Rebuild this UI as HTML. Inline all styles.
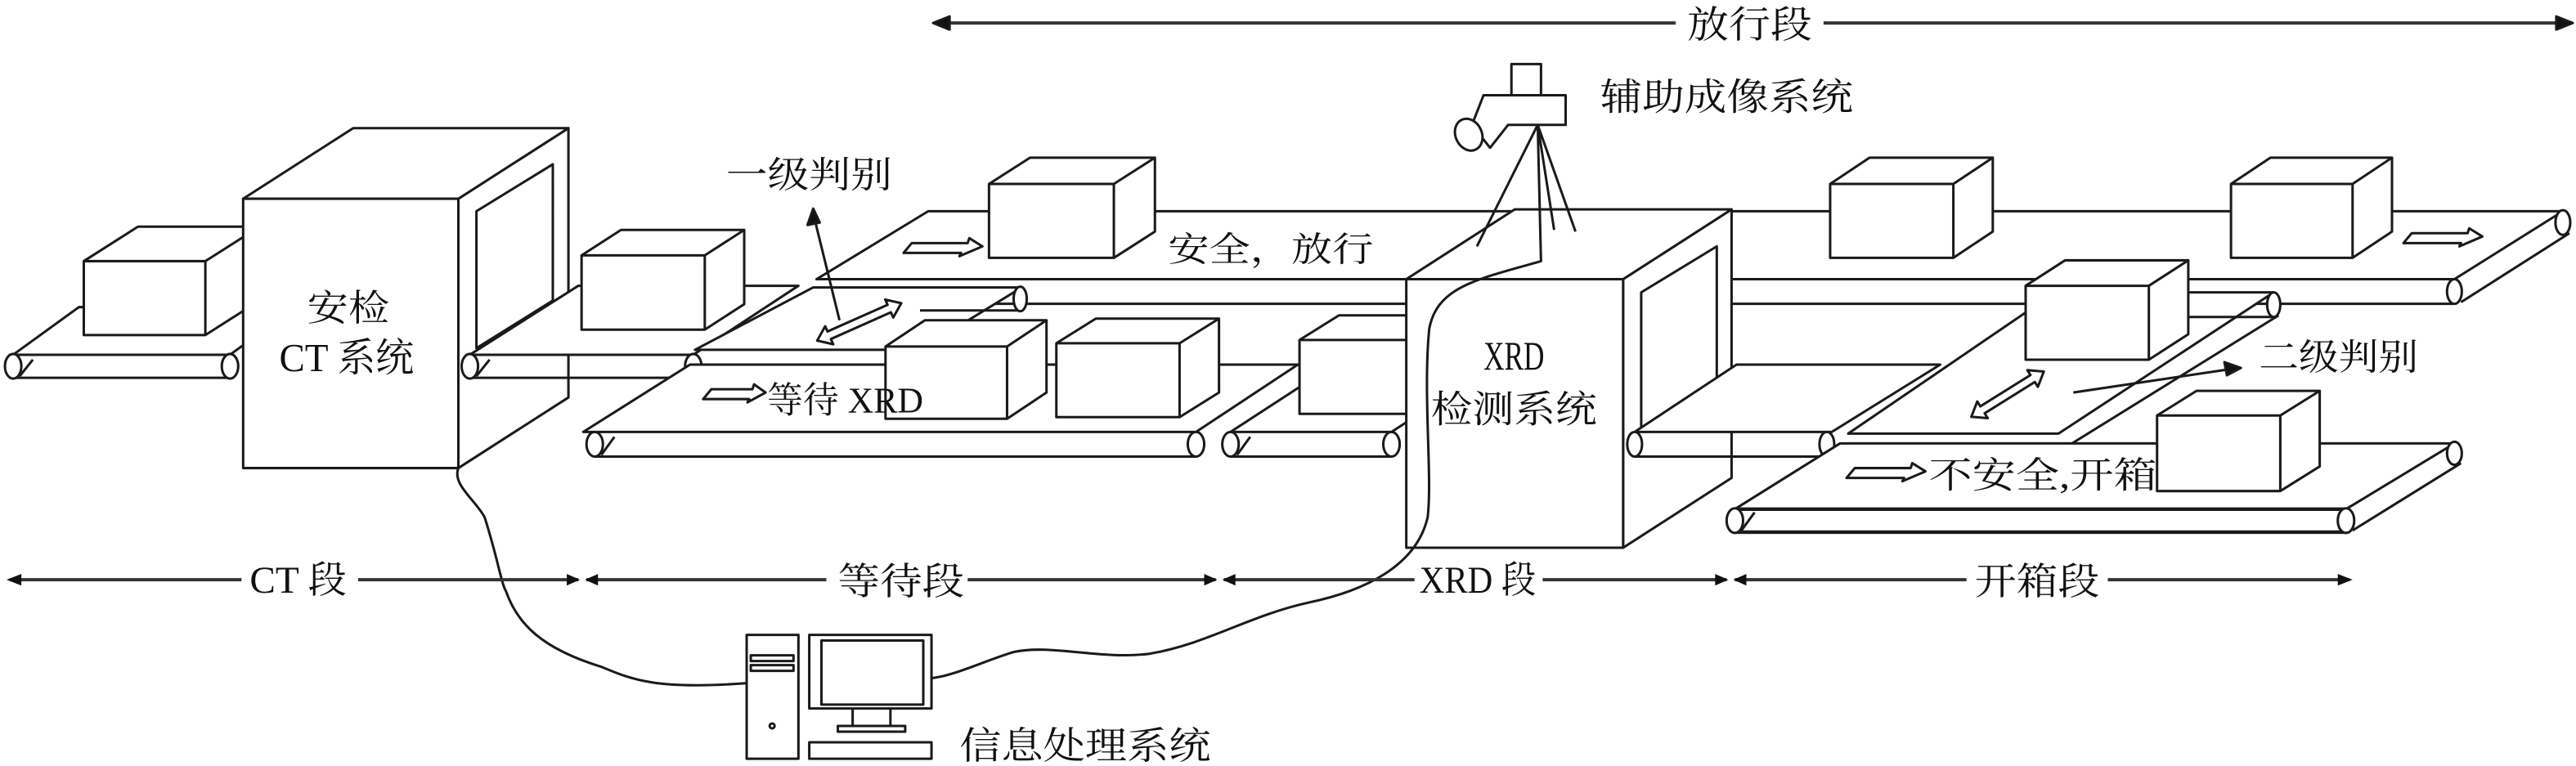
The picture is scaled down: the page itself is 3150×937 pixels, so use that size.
<!DOCTYPE html>
<html><head><meta charset="utf-8"><style>
html,body{margin:0;padding:0;background:#fff;}
svg{display:block;}
text{font-family:"Liberation Serif","Noto Serif CJK SC",serif;fill:#111;}
</style></head><body>
<svg width="3150" height="937" viewBox="0 0 1568 466.4" xmlns="http://www.w3.org/2000/svg">
<g fill="#fff" stroke="#1a1a1a" stroke-width="1.5" stroke-linejoin="round">

<line x1="572" y1="14" x2="1020" y2="14" stroke="#333" stroke-width="2"/>
<line x1="1110" y1="14" x2="1560" y2="14" stroke="#333" stroke-width="2"/>
<path d="M568,14 L578,10 L578,18Z" fill="#111"/>
<path d="M1566,14 L1556,10 L1556,18Z" fill="#111"/>

<path d="M565,128.6 L1560,128.6 L1494,170 L497,170Z"/>
<line x1="497" y1="185" x2="1494" y2="185"/>
<ellipse cx="1494" cy="177.5" rx="4.5" ry="7.5"/>
<ellipse cx="1560" cy="135.5" rx="4.5" ry="7.5"/>
<line x1="1564" y1="142" x2="1498" y2="184"/>

<path d="M602,112 L627,96 L703,96 L703,141 L678,157 L602,157Z M602,112 L678,112 L678,157 M678,112 L703,96"/>
<path d="M1114,112 L1138,96 L1213,96 L1213,141 L1189,157 L1114,157Z M1114,112 L1189,112 L1189,157 M1189,112 L1213,96"/>
<path d="M1358,112 L1382,96 L1456,96 L1456,141 L1432,157 L1358,157Z M1358,112 L1432,112 L1432,157 M1432,112 L1456,96"/>
<path transform="translate(550,146)" d="M0,8 L5,2 L39,2 L40,-1 L48,4 L34,10 L35,8 Z"/>
<path transform="translate(1463,140)" d="M0,8 L5,2 L39,2 L40,-1 L48,4 L34,10 L35,8 Z"/>

<path d="M8,216 L140,216 L180,187 L48,187Z"/>
<line x1="8" y1="230" x2="140" y2="230"/>
<ellipse cx="8" cy="223" rx="5" ry="7.5"/>
<ellipse cx="140" cy="223" rx="5" ry="7.5"/>
<line x1="12" y1="229" x2="20" y2="219"/>
<path d="M51,159 L84,138 L158,138 L158,183 L125,204 L51,204Z M51,159 L125,159 L125,204 M125,159 L158,138"/>

<path d="M279,121 L346,78 L346,242 L279,285Z"/>
<path d="M148,121 L215,78 L346,78 L279,121Z"/>
<rect x="148" y="121" width="131" height="164"/>
<path d="M290,128.6 L336.5,100 L336.5,183 L290,212Z"/>

<path d="M286,216 L422,216 L486,174 L352,174Z"/>
<line x1="286" y1="230" x2="422" y2="230"/>
<ellipse cx="286" cy="223" rx="5" ry="7.5"/>
<ellipse cx="422" cy="223" rx="5" ry="7.5"/>
<line x1="290" y1="229" x2="298" y2="219"/>
<path d="M354,155.5 L378,140 L453,140 L453,185.2 L429,200.7 L354,200.7Z M354,155.5 L429,155.5 L429,200.7 M429,155.5 L453,140"/>

<path d="M423,213 L560,213 L622,175 L495,175Z"/>
<line x1="560" y1="189" x2="622" y2="189"/>
<ellipse cx="621" cy="182" rx="4" ry="7.5"/>
<path transform="translate(523,196) rotate(-24)" d="M-28,0 L-20,-6 L-20,-2.5 L20,-2.5 L20,-6 L28,0 L20,6 L20,2.5 L-20,2.5 L-20,6 Z"/>
<line x1="511" y1="195" x2="496" y2="134"/>
<path d="M495,127 L491.5,137 L499,135.5Z" fill="#111"/>

<path d="M355,263 L728,263 L790,222 L420,222Z"/>
<line x1="362" y1="278" x2="728" y2="278"/>
<ellipse cx="362" cy="270.5" rx="5" ry="7.5"/>
<ellipse cx="728" cy="270.5" rx="5" ry="7.5"/>
<line x1="366" y1="277" x2="374" y2="266"/>
<path transform="translate(428,235)" d="M0,8 L5,2 L30,2 L31,-1 L38,4 L27,10 L28,8 Z"/>
<path d="M539,211 L563,195 L637,195 L637,239 L613,255 L539,255Z M539,211 L613,211 L613,255 M613,211 L637,195"/>
<path d="M643,209 L667,194 L742,194 L742,239 L718,254 L643,254Z M643,209 L718,209 L718,254 M718,209 L742,194"/>

<path d="M749,263 L847,263 L910,222 L812,222Z"/>
<line x1="749" y1="278" x2="847" y2="278"/>
<ellipse cx="749" cy="270.5" rx="5" ry="7.5"/>
<ellipse cx="847" cy="270.5" rx="5" ry="7.5"/>
<line x1="753" y1="277" x2="761" y2="266"/>
<path d="M791,207 L815,192 L890,192 L890,237 L866,252 L791,252Z M791,207 L866,207 L866,252 M866,207 L890,192"/>

<path d="M988,170 L1054,127.5 L1054,291 L988,333.5Z"/>
<path d="M856,170 L922,127.5 L1054,127.5 L988,170Z"/>
<rect x="856" y="170" width="132" height="163.5"/>
<path d="M999,178 L1045,150 L1045,232 L999,262Z"/>

<path d="M995,263 L1115,263 L1181,222 L1057,222Z"/>
<line x1="995" y1="278" x2="1112" y2="278"/>
<ellipse cx="995" cy="270.5" rx="4.5" ry="7.5"/>
<ellipse cx="1112" cy="270.5" rx="4.5" ry="7.5"/>

<path d="M1125,264 L1253,264 L1384,178 L1251,178Z"/>
<ellipse cx="1384" cy="185.5" rx="4" ry="7.5"/>
<line x1="1384" y1="193" x2="1330" y2="193"/>
<line x1="1387" y1="192" x2="1258" y2="272"/>
<path d="M1233,174 L1257,158.5 L1332,158.5 L1332,203.5 L1308,219 L1233,219Z M1233,174 L1308,174 L1308,219 M1308,174 L1332,158.5"/>
<path transform="translate(1222,240) rotate(-32)" d="M-26,0 L-18,-6 L-18,-2.5 L18,-2.5 L18,-6 L26,0 L18,6 L18,2.5 L-18,2.5 L-18,6 Z"/>
<line x1="1262" y1="239" x2="1356" y2="225"/>
<path d="M1364,224 L1354,220.5 L1355.5,228.5Z" fill="#111"/>

<path d="M1056,310 L1428,310 L1494,270 L1120,270Z"/>
<line x1="1056" y1="324" x2="1428" y2="324" stroke-width="2.2"/>
<line x1="1056" y1="310" x2="1428" y2="310" stroke-width="2.2"/>
<ellipse cx="1056" cy="317" rx="5" ry="7.5"/>
<ellipse cx="1428" cy="317" rx="5" ry="7.5"/>
<ellipse cx="1494" cy="276" rx="4.5" ry="7"/>
<line x1="1498" y1="282" x2="1432" y2="323"/>
<line x1="1060" y1="323" x2="1068" y2="312"/>
<path transform="translate(1124,283)" d="M0,8 L5,2 L39,2 L40,-1 L48,4 L34,10 L35,8 Z"/>
</g>

<text x="1174" y="297" font-size="22" textLength="139" lengthAdjust="spacingAndGlyphs">不安全,开箱</text>
<g fill="#fff" stroke="#1a1a1a" stroke-width="1.5" stroke-linejoin="round">
<path d="M1313,253 L1337,238 L1412,238 L1412,284 L1388,299 L1313,299Z M1313,253 L1388,253 L1388,299 M1388,253 L1412,238"/>

<rect x="920" y="39" width="18" height="20"/>
<path d="M903,58 L953,58 L953,76 L918,76 L907,90 L896,76Z"/>
<ellipse cx="894" cy="82" rx="8" ry="10" transform="rotate(-25 894 82)"/>
<path d="M936,76 L899,150 M936,76 L946,140 M936,76 L959,141" fill="none"/>
<path d="M936,76 L938,159 C900,170 875,174 870,200 C866,240 872,290 869,315 C862,345 830,360 796,367 C760,375 735,392 700,398 C670,402 640,392 617,397 C600,402 580,412 566,413" fill="none"/>
<path d="M279,285 C275,295 290,305 295,315 C303,340 305,355 308,360 C315,380 330,395 366,406 C385,414 400,420 454,416" fill="none"/>

<rect x="454.5" y="386.6" width="31.5" height="75.4"/>
<rect x="457" y="399" width="26" height="3.5"/>
<rect x="457" y="405" width="26" height="3.5"/>
<circle cx="470" cy="442" r="1.5"/>
<rect x="492.6" y="386.6" width="74.4" height="44.8"/>
<rect x="500" y="390" width="62" height="39"/>
<path d="M519,431.4 L519,442 M542,431.4 L542,442" fill="none"/>
<rect x="510" y="442" width="41" height="3.5"/>
<rect x="492.6" y="452" width="74.4" height="10"/>

<g stroke="#333" stroke-width="2">
<line x1="6" y1="353" x2="147" y2="353"/>
<line x1="218" y1="353" x2="352" y2="353"/>
<line x1="357" y1="353" x2="503" y2="353"/>
<line x1="589" y1="353" x2="740" y2="353"/>
<line x1="745" y1="353" x2="861" y2="353"/>
<line x1="939" y1="353" x2="1051" y2="353"/>
<line x1="1056" y1="353" x2="1197" y2="353"/>
<line x1="1283" y1="353" x2="1430" y2="353"/>
</g>
<g fill="#111" stroke="none">
<path d="M4,353 L13,349.5 L13,356.5Z"/>
<path d="M353,353 L345,349.5 L345,356.5Z M356,353 L364,349.5 L364,356.5Z"/>
<path d="M741,353 L733,349.5 L733,356.5Z M744,353 L752,349.5 L752,356.5Z"/>
<path d="M1052,353 L1044,349.5 L1044,356.5Z M1055,353 L1063,349.5 L1063,356.5Z"/>
<path d="M1432,353 L1423,349.5 L1423,356.5Z"/>
</g>
</g>

<text x="1027" y="23" font-size="23" textLength="76" lengthAdjust="spacingAndGlyphs">放行段</text>
<text x="974" y="67" font-size="23" textLength="154" lengthAdjust="spacingAndGlyphs">辅助成像系统</text>
<text x="442" y="114" font-size="22" textLength="101" lengthAdjust="spacingAndGlyphs">一级判别</text>
<text x="711" y="159" font-size="21" textLength="125" lengthAdjust="spacingAndGlyphs">安全，放行</text>
<text x="187" y="195" font-size="22" textLength="50" lengthAdjust="spacingAndGlyphs">安检</text>
<text x="170" y="226" font-size="24" textLength="82" lengthAdjust="spacingAndGlyphs">CT 系统</text>
<text x="467" y="251" font-size="22" textLength="95" lengthAdjust="spacingAndGlyphs">等待 XRD</text>
<text x="903" y="225" font-size="25" textLength="37" lengthAdjust="spacingAndGlyphs">XRD</text>
<text x="871" y="257" font-size="23" textLength="101" lengthAdjust="spacingAndGlyphs">检测系统</text>
<text x="1375" y="225" font-size="22" textLength="97" lengthAdjust="spacingAndGlyphs">二级判别</text>
<text x="152" y="361" font-size="23" textLength="59" lengthAdjust="spacingAndGlyphs">CT 段</text>
<text x="510" y="362" font-size="23" textLength="77" lengthAdjust="spacingAndGlyphs">等待段</text>
<text x="864" y="361" font-size="23" textLength="71" lengthAdjust="spacingAndGlyphs">XRD 段</text>
<text x="1202" y="362" font-size="23" textLength="76" lengthAdjust="spacingAndGlyphs">开箱段</text>
<text x="584" y="462" font-size="23" textLength="153" lengthAdjust="spacingAndGlyphs">信息处理系统</text>
</svg>
</body></html>
